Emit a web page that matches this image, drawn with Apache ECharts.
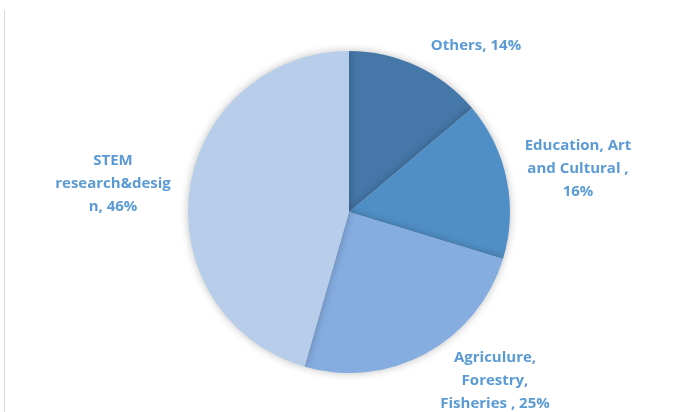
<!DOCTYPE html>
<html>
<head>
<meta charset="utf-8">
<script src="https://cdn.jsdelivr.net/npm/echarts@6/dist/echarts.min.js"></script>
<style>
  html, body { margin: 0; padding: 0; background: #fff; }
  #chart { width: 682px; height: 412px; }
  #edge { position: absolute; left: 4px; top: 10px; width: 1px; height: 402px; background: #d9d9d9; }
</style>
</head>
<body>
<div id="edge"></div>
<div id="chart"></div>
<script>
const categories = ['Others', 'Education, Art and Cultural', 'Agriculure, Forestry, Fisheries', 'STEM research&design'];
const labelTexts = ['Others, 14%', 'Education, Art\nand Cultural ,\n16%', 'Agriculure,\nForestry,\nFisheries , 25%', 'STEM\nresearch&desig\nn, 46%'];
const values = [14, 16, 25, 46];
const colors = ['#4577a8', '#508fc6', '#85ade0', '#b7cde9'];
const labelSpots = [[476, 46], [578, 169], [495, 381], [113, 184]];

const myChart = echarts.init(document.getElementById('chart'));
const option = {
  animation: false,
  series: [
    {
      type: 'pie',
      center: [349, 212],
      radius: 161,
      startAngle: 90,
      clockwise: true,
      data: categories.map((name, i) => ({
        name: name,
        value: values[i],
        itemStyle: { color: colors[i] }
      })),
      itemStyle: {
        borderWidth: 0,
        shadowBlur: 8,
        shadowColor: 'rgba(0,0,0,0.25)'
      },
      label: {
        show: true,
        position: 'outside',
        formatter: p => labelTexts[p.dataIndex],
        color: '#5b9bd5',
        fontFamily: 'Open Sans',
        fontWeight: 'bold',
        fontSize: 15,
        lineHeight: 23,
        align: 'center'
      },
      labelLine: { show: false },
      labelLayout: p => ({
        x: labelSpots[p.dataIndex][0],
        y: labelSpots[p.dataIndex][1],
        align: 'center',
        verticalAlign: 'middle'
      })
    }
  ]
};
myChart.setOption(option);
window.addEventListener('resize', () => myChart.resize());
</script>
</body>
</html>
